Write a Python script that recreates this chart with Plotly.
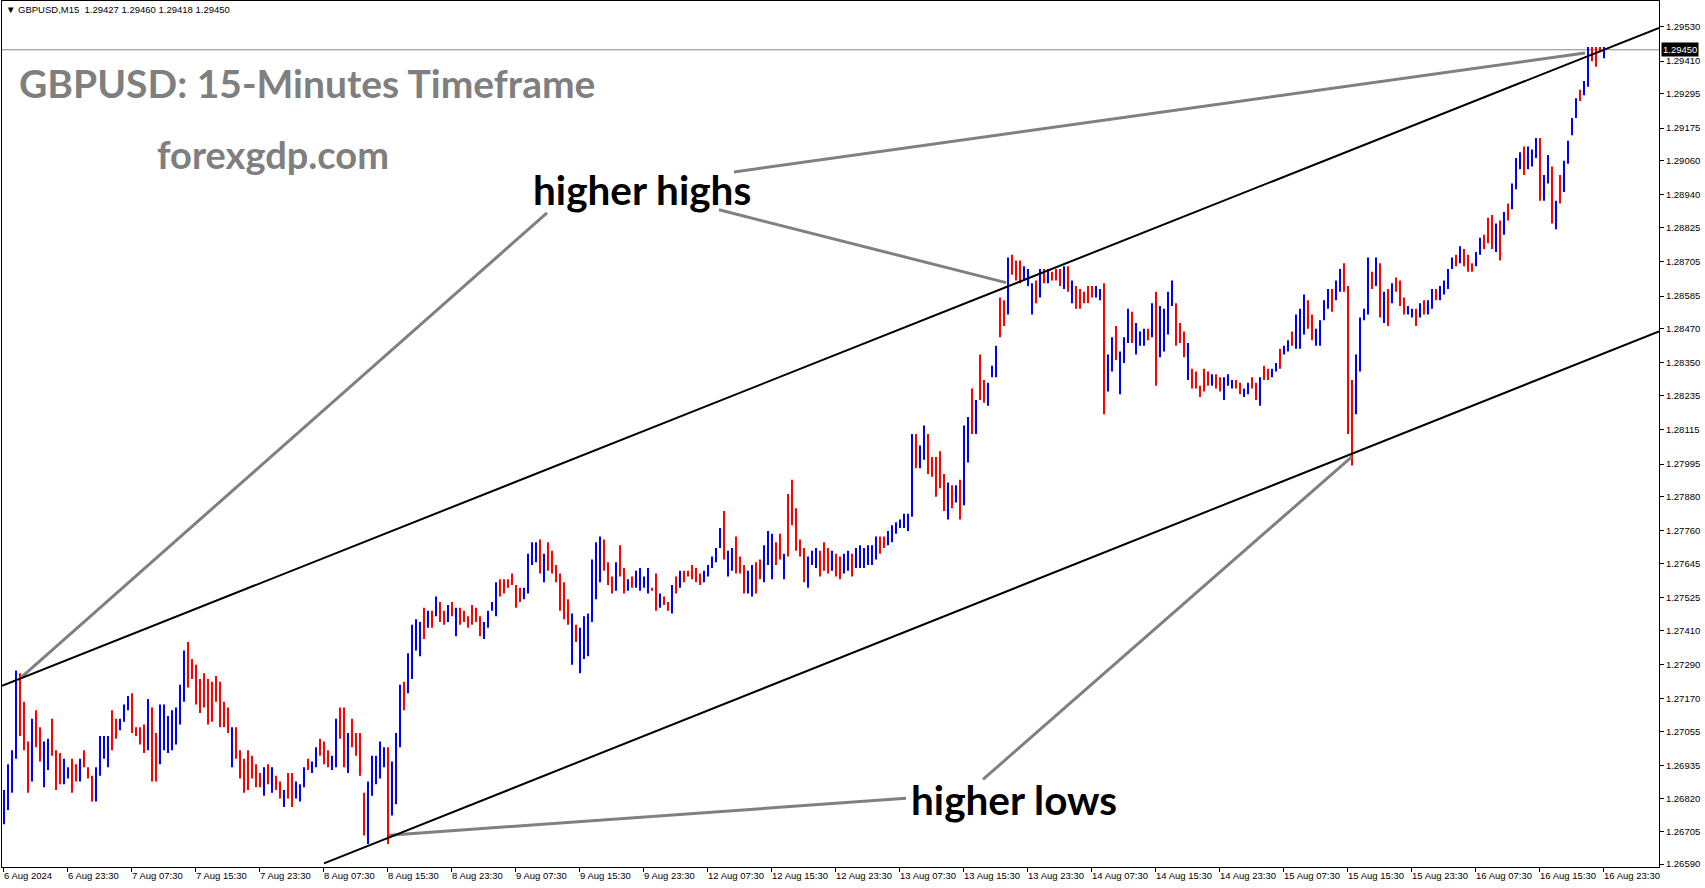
import plotly.graph_objects as go

# ---------------- data (30-minute bars) ----------------
highs = [
1.2685,1.2694,1.2699,1.2727,1.2726,1.2716,1.2702,1.2710,1.2713,1.2707,
1.2702,1.2703,1.2710,1.2699,1.2698,1.2696,1.2693,1.2696,1.2694,1.2696,
1.2699,1.2693,1.2690,1.2693,1.2704,1.2704,1.2704,1.2713,1.2710,1.2710,
1.2715,1.2718,1.2719,1.2707,1.2707,1.2708,1.2717,1.2714,1.2705,1.2715,
1.2715,1.2711,1.2713,1.2714,1.2722,1.2734,1.2737,1.2731,1.2729,1.2724,
1.2726,1.2724,1.2723,1.2725,1.2723,1.2716,1.2714,1.2707,1.2707,1.2699,
1.2696,1.2699,1.2697,1.2694,1.2691,1.2693,1.2694,1.2693,1.2690,1.2688,
1.2685,1.2691,1.2691,1.2688,1.2687,1.2693,1.2696,1.2695,1.2700,1.2703,
1.2702,1.2699,1.2697,1.2710,1.2714,1.2714,1.2705,1.2710,1.2705,1.2705,
1.2684,1.2688,1.2697,1.2697,1.2702,1.2700,1.2700,1.2695,1.2705,1.2722,
1.2723,1.2733,1.2743,1.2745,1.2744,1.2749,1.2748,1.2748,1.2753,1.2751,
1.2748,1.2750,1.2751,1.2749,1.2749,1.2748,1.2746,1.2750,1.2749,1.2746,
1.2744,1.2748,1.2751,1.2758,1.2759,1.2759,1.2759,1.2761,1.2757,1.2756,
1.2756,1.2768,1.2772,1.2772,1.2773,1.2768,1.2772,1.2769,1.2764,1.2761,
1.2758,1.2752,1.2747,1.2743,1.2742,1.2746,1.2747,1.2766,1.2772,1.2774,
1.2773,1.2765,1.2760,1.2765,1.2771,1.2763,1.2759,1.2760,1.2762,1.2763,
1.2760,1.2763,1.2756,1.2761,1.2754,1.2753,1.2751,1.2757,1.2760,1.2762,
1.2762,1.2762,1.2764,1.2763,1.2761,1.2762,1.2764,1.2767,1.2770,1.2777,
1.2783,1.2769,1.2770,1.2774,1.2767,1.2764,1.2762,1.2764,1.2765,1.2766,
1.2771,1.2776,1.2775,1.2772,1.2775,1.2768,1.2789,1.2794,1.2784,1.2773,
1.2770,1.2767,1.2769,1.2770,1.2769,1.2772,1.2770,1.2769,1.2768,1.2767,
1.2768,1.2769,1.2768,1.2770,1.2771,1.2770,1.2771,1.2771,1.2774,1.2774,
1.2774,1.2776,1.2778,1.2779,1.2780,1.2782,1.2782,1.2810,1.2810,1.2806,
1.2813,1.2810,1.2802,1.2802,1.2804,1.2796,1.2793,1.2792,1.2792,1.2794,
1.2813,1.2816,1.2826,1.2822,1.2838,1.2829,1.2828,1.2834,1.2841,1.2858,
1.2857,1.2872,1.2873,1.2871,1.2871,1.2869,1.2868,1.2863,1.2864,1.2868,
1.2868,1.2868,1.2867,1.2868,1.2868,1.2869,1.2869,1.2864,1.2862,1.2861,
1.2860,1.2862,1.2862,1.2862,1.2861,1.2863,1.2838,1.2844,1.2848,1.2839,
1.2844,1.2854,1.2853,1.2849,1.2846,1.2847,1.2847,1.2856,1.2860,1.2855,
1.2854,1.2860,1.2864,1.2856,1.2849,1.2846,1.2842,1.2833,1.2832,1.2827,
1.2833,1.2832,1.2831,1.2831,1.2830,1.2830,1.2831,1.2829,1.2829,1.2828,
1.2826,1.2828,1.2830,1.2828,1.2830,1.2834,1.2833,1.2833,1.2835,1.2840,
1.2841,1.2843,1.2846,1.2852,1.2854,1.2859,1.2857,1.2852,1.2847,1.2850,
1.2857,1.2861,1.2861,1.2864,1.2868,1.2870,1.2862,1.2829,1.2838,1.2851,
1.2854,1.2872,1.2867,1.2872,1.2870,1.2860,1.2861,1.2863,1.2865,1.2864,
1.2858,1.2855,1.2854,1.2854,1.2856,1.2857,1.2857,1.2861,1.2861,1.2862,
1.2864,1.2868,1.2872,1.2873,1.2876,1.2875,1.2873,1.2870,1.2874,1.2879,
1.2880,1.2886,1.2887,1.2884,1.2885,1.2888,1.2891,1.2898,1.2907,1.2909,
1.2911,1.2911,1.2910,1.2914,1.2914,1.2901,1.2908,1.2904,1.2892,1.2901,
1.2906,1.2913,1.2921,1.2928,1.2931,1.2934,1.2946,1.2946,1.2946,1.2946,
1.2946]

lows = [
1.2673,1.2678,1.2684,1.2696,1.2704,1.2699,1.2684,1.2688,1.2700,1.2695,
1.2686,1.2692,1.2697,1.2685,1.2687,1.2687,1.2689,1.2684,1.2688,1.2688,
1.2693,1.2689,1.2681,1.2681,1.2690,1.2696,1.2693,1.2699,1.2703,1.2706,
1.2709,1.2713,1.2705,1.2704,1.2701,1.2698,1.2699,1.2688,1.2688,1.2694,
1.2699,1.2698,1.2699,1.2701,1.2708,1.2716,1.2721,1.2724,1.2715,1.2712,
1.2714,1.2708,1.2709,1.2716,1.2707,1.2707,1.2705,1.2693,1.2696,1.2689,
1.2684,1.2685,1.2689,1.2686,1.2686,1.2683,1.2687,1.2684,1.2685,1.2682,
1.2679,1.2682,1.2679,1.2682,1.2681,1.2686,1.2692,1.2691,1.2693,1.2697,
1.2694,1.2693,1.2692,1.2693,1.2703,1.2693,1.2691,1.2700,1.2697,1.2690,
1.2669,1.2666,1.2683,1.2687,1.2689,1.2693,1.2666,1.2676,1.2680,1.2700,
1.2713,1.2719,1.2724,1.2734,1.2732,1.2738,1.2742,1.2742,1.2746,1.2744,
1.2743,1.2744,1.2746,1.2739,1.2743,1.2744,1.2742,1.2743,1.2744,1.2739,
1.2738,1.2742,1.2748,1.2746,1.2753,1.2754,1.2756,1.2757,1.2749,1.2751,
1.2752,1.2754,1.2764,1.2765,1.2761,1.2758,1.2762,1.2761,1.2758,1.2748,
1.2745,1.2743,1.2729,1.2737,1.2726,1.2731,1.2732,1.2744,1.2752,1.2758,
1.2762,1.2757,1.2754,1.2755,1.2760,1.2754,1.2755,1.2756,1.2756,1.2755,
1.2756,1.2754,1.2755,1.2748,1.2749,1.2750,1.2748,1.2747,1.2754,1.2756,
1.2758,1.2760,1.2759,1.2758,1.2757,1.2758,1.2760,1.2763,1.2765,1.2770,
1.2766,1.2760,1.2762,1.2761,1.2761,1.2754,1.2754,1.2753,1.2754,1.2759,
1.2758,1.2764,1.2759,1.2764,1.2766,1.2759,1.2767,1.2778,1.2769,1.2767,
1.2758,1.2756,1.2764,1.2763,1.2760,1.2762,1.2761,1.2762,1.2760,1.2759,
1.2761,1.2762,1.2760,1.2763,1.2763,1.2763,1.2764,1.2764,1.2766,1.2768,
1.2770,1.2771,1.2772,1.2775,1.2777,1.2777,1.2776,1.2781,1.2798,1.2798,
1.2801,1.2796,1.2795,1.2788,1.2791,1.2783,1.2780,1.2784,1.2786,1.2780,
1.2785,1.2800,1.2810,1.2810,1.2822,1.2821,1.2820,1.2830,1.2830,1.2844,
1.2848,1.2852,1.2866,1.2864,1.2863,1.2864,1.2862,1.2852,1.2856,1.2858,
1.2863,1.2863,1.2864,1.2864,1.2862,1.2861,1.2860,1.2856,1.2854,1.2854,
1.2856,1.2856,1.2858,1.2858,1.2857,1.2817,1.2825,1.2832,1.2836,1.2824,
1.2835,1.2842,1.2842,1.2838,1.2841,1.2841,1.2843,1.2844,1.2827,1.2837,
1.2839,1.2845,1.2855,1.2841,1.2842,1.2837,1.2829,1.2826,1.2826,1.2823,
1.2825,1.2827,1.2827,1.2826,1.2825,1.2822,1.2827,1.2826,1.2826,1.2824,
1.2823,1.2824,1.2826,1.2822,1.2820,1.2829,1.2829,1.2830,1.2832,1.2833,
1.2838,1.2839,1.2841,1.2840,1.2840,1.2845,1.2847,1.2843,1.2841,1.2841,
1.2850,1.2854,1.2853,1.2857,1.2860,1.2860,1.2810,1.2799,1.2817,1.2832,
1.2850,1.2852,1.2861,1.2862,1.2851,1.2849,1.2848,1.2856,1.2860,1.2855,
1.2852,1.2852,1.2851,1.2848,1.2851,1.2852,1.2852,1.2854,1.2857,1.2857,
1.2859,1.2861,1.2868,1.2869,1.2870,1.2869,1.2867,1.2867,1.2869,1.2873,
1.2875,1.2877,1.2875,1.2874,1.2871,1.2880,1.2885,1.2889,1.2896,1.2903,
1.2901,1.2903,1.2904,1.2907,1.2892,1.2892,1.2898,1.2884,1.2882,1.2891,
1.2895,1.2905,1.2915,1.2921,1.2927,1.2929,1.2932,1.2941,1.2939,1.2944,
1.2942]

# B = bullish bar (blue), R = bearish bar (red)
bar_dir = ("BBBBRRRBRR" "BBRRRBBRRB" "RRRBBBBRRB" "BBRRRRBRRB" "BBBBBBRRRR"
           "RRRRRRRBRR" "RRRRRBRBRR" "BRRBBBRBBR" "RRBBRRBRRR" "RBBBBBRBBB"
           "RBBBBRBRBR" "RBRBRRRRRR" "BBBBRRRRRR" "BBBBRBRRRR" "RRBRBBBBBB"
           "RRRBRRBRBB" "BBRRBRRBRB" "RRRRRBBBBB" "RBBRRRBBRR" "BBBRRBRRRR"
           "RBBBRRRBRR" "BBRBBBBBBR" "RBBBBBBBRB" "BRRRRRBRBR" "BBRBRRBBBR"
           "RBRRRBBBRB" "RBRRRBRBRR" "RRRBBRBBRB" "BBRBBBRBRB" "BBBRRRBRRR"
           "RRBRRBBBRR" "BBRRBRRBBR" "BBRBBBRRBB" "BBRBBRRRBB" "BBRBRBRBRR"
           "RBBRBRBBRB" "BBBRBRRRBB" "RRRBRBRBBB" "RBBBRBBRBR" "BBBBRBBRRR"
           "B")

# time axis: positions counted in 15-minute slots
time_tick_labels = ["6 Aug 2024", "6 Aug 23:30", "7 Aug 07:30", "7 Aug 15:30", "7 Aug 23:30",
                    "8 Aug 07:30", "8 Aug 15:30", "8 Aug 23:30", "9 Aug 07:30", "9 Aug 15:30",
                    "9 Aug 23:30", "12 Aug 07:30", "12 Aug 15:30", "12 Aug 23:30", "13 Aug 07:30",
                    "13 Aug 15:30", "13 Aug 23:30", "14 Aug 07:30", "14 Aug 15:30", "14 Aug 23:30",
                    "15 Aug 07:30", "15 Aug 15:30", "15 Aug 23:30", "16 Aug 07:30", "16 Aug 15:30",
                    "16 Aug 23:30"]
slots_per_label = 32

price_ticks = [1.29530, 1.29410, 1.29295, 1.29175, 1.29060, 1.28940, 1.28825, 1.28705,
               1.28585, 1.28470, 1.28350, 1.28235, 1.28115, 1.27995, 1.27880, 1.27760,
               1.27645, 1.27525, 1.27410, 1.27290, 1.27170, 1.27055, 1.26935, 1.26820,
               1.26705, 1.26590]

last_price = 1.29450
header_text = "GBPUSD,M15  1.29427 1.29460 1.29418 1.29450"

# channel lines (slot, price)
upper_channel = ([-0.5, 828.0], [1.27216, 1.29527])
lower_channel = ([160.5, 828.0], [1.26592, 1.28461])

# grey pointer lines (slot, price)
pointer_lines = [
    ([9, 272], [1.27245, 1.28877]),
    ([358, 501.5], [1.28888, 1.28632]),
    ([365.5, 791], [1.29021, 1.29439]),
    ([451.5, 193], [1.26821, 1.26691]),
    ([490, 674.5], [1.26887, 1.28021]),
]

x_range = [-0.5, 828.0]
y_range = [1.265795, 1.296213]

# ---------------- figure ----------------
assert len(highs) == len(lows) == len(bar_dir)

fig = go.Figure()
for code, col in (("B", "#0000ff"), ("R", "#ff0000")):
    xs, ys = [], []
    for k, (h, l, d) in enumerate(zip(highs, lows, bar_dir)):
        if d != code:
            continue
        pos = 2 * k + 0.5
        xs += [pos, pos, None]
        ys += [l, h, None]
    fig.add_trace(go.Scatter(x=xs, y=ys, mode="lines", line=dict(color=col, width=2),
                             hoverinfo="skip", showlegend=False))

for lx, ly in pointer_lines:
    fig.add_trace(go.Scatter(x=lx, y=ly, mode="lines", line=dict(color="#808080", width=3),
                             hoverinfo="skip", showlegend=False))

for lx, ly in (upper_channel, lower_channel):
    fig.add_trace(go.Scatter(x=lx, y=ly, mode="lines", line=dict(color="#000000", width=2),
                             hoverinfo="skip", showlegend=False))

# current price line
fig.add_shape(type="line", xref="paper", x0=0, x1=1, yref="y", y0=last_price, y1=last_price,
              line=dict(color="#7f8a96", width=1), layer="below")

tick_font = dict(family="Liberation Sans, Arial, sans-serif", size=9.5, color="#000000")

fig.update_layout(
    width=1705, height=888,
    margin=dict(l=2, r=46, t=1, b=21, autoexpand=False),
    paper_bgcolor="#ffffff", plot_bgcolor="#ffffff",
    xaxis=dict(range=x_range, showgrid=False, zeroline=False, automargin=False,
               tickvals=[i * slots_per_label for i in range(len(time_tick_labels))],
               ticktext=time_tick_labels, tickangle=0, ticks="outside", ticklen=4,
               tickcolor="#000", ticklabelposition="outside right", tickfont=tick_font,
               showline=True, linecolor="#000", linewidth=1, mirror=True),
    yaxis=dict(range=y_range, side="right", showgrid=False, zeroline=False, automargin=False,
               tickvals=price_ticks, ticktext=[f"{v:.5f}" for v in price_ticks],
               ticks="outside", ticklen=4, tickcolor="#000", tickfont=tick_font,
               showline=True, linecolor="#000", linewidth=1, mirror=True),
)

big = "Lato, 'Open Sans', sans-serif"
fig.add_annotation(xref="paper", yref="paper", x=0.0092, y=0.905, xanchor="left", yanchor="middle",
                   text="<b>GBPUSD: 15-Minutes Timeframe</b>", showarrow=False,
                   font=dict(family=big, size=39, color="#7f7f7f"))
fig.add_annotation(xref="paper", yref="paper", x=0.0925, y=0.823, xanchor="left", yanchor="middle",
                   text="<b>forexgdp.com</b>", showarrow=False,
                   font=dict(family=big, size=38, color="#7f7f7f"))
fig.add_annotation(xref="paper", yref="paper", x=0.3195, y=0.782, xanchor="left", yanchor="middle",
                   text="<b>higher highs</b>", showarrow=False,
                   font=dict(family=big, size=40.5, color="#000000"))
fig.add_annotation(xref="paper", yref="paper", x=0.5476, y=0.0785, xanchor="left", yanchor="middle",
                   text="<b>higher lows</b>", showarrow=False,
                   font=dict(family=big, size=40.5, color="#000000"))
fig.add_annotation(xref="paper", yref="paper", x=0.001, y=0.99, xanchor="left", yanchor="middle",
                   text="▼ " + header_text, showarrow=False,
                   font=dict(family="Liberation Sans, Arial, sans-serif", size=9.5, color="#000"))
fig.add_annotation(xref="paper", yref="y", x=1, y=last_price, xanchor="left", yanchor="middle",
                   xshift=2, text=f"{last_price:.5f}", showarrow=False, bgcolor="#000000",
                   borderpad=1, font=dict(family="Liberation Sans, Arial, sans-serif", size=9.5,
                                          color="#ffffff"))

fig.write_html("out.html", config={"displayModeBar": False},
               post_script="document.body.style.margin='0';document.body.style.overflow='hidden';")
